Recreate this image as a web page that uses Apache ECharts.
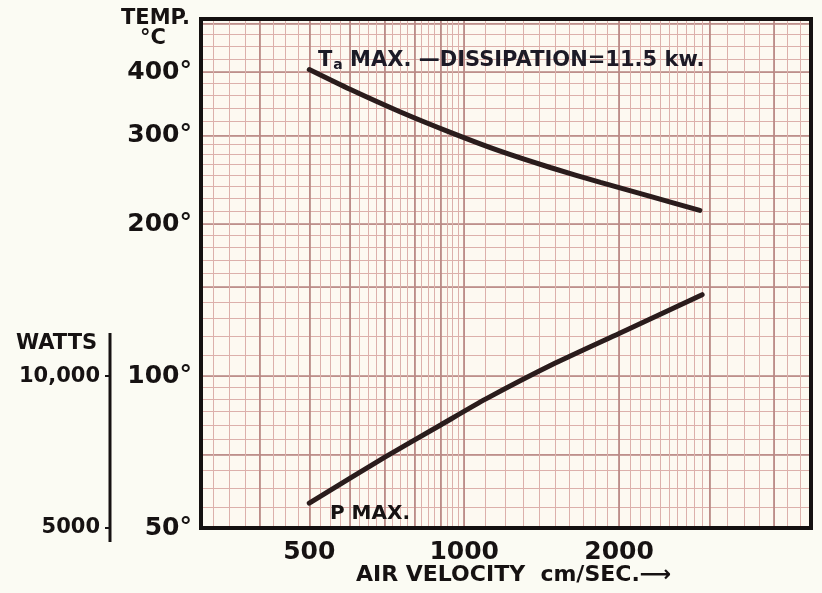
<!DOCTYPE html>
<html>
<head>
<meta charset="utf-8">
<script src="https://cdn.jsdelivr.net/npm/echarts@6/dist/echarts.min.js"></script>
<style>
html, body { margin: 0; padding: 0; background: #fbfbf3; }
#chart { width: 822px; height: 593px; }
</style>
</head>
<body>
<div id="chart"></div>
<script>
// air velocity (cm/sec) against max temperature / max power
var tempVelocity = [500, 600, 750, 940, 1175, 1470, 1840, 2300, 2870];
var tempMax = [405, 370, 334, 304, 279, 259, 242, 227, 213];
var powerVelocity = [500, 700, 900, 1100, 1500, 2000, 2900];
var powerMax = [5600, 6900, 8000, 9000, 10600, 12150, 14500];

var xLabels = [500, 1000, 2000];
var tempLabels = [50, 100, 200, 300, 400];
var wattLabels = [5000, 10000];

var X_MIN = 308, X_MAX = 4720;
var T_MIN = 50, T_MAX = 510;
var W_MIN = 5000, W_MAX = 51000;

// graph paper rulings
function steps(a, b, s) {
  var out = [];
  for (var v = a; v <= b + 1e-9; v += s) out.push(+v.toFixed(3));
  return out;
}
function inside(arr, lo, hi) {
  return arr.filter(function (v) { return v >= lo && v <= hi; });
}
var xFine = inside(steps(300, 1000, 25).concat(steps(1100, 3000, 100), steps(3250, 5000, 250)), X_MIN, X_MAX);
var xBold = inside(steps(300, 1000, 100).concat([2000, 3000, 4000, 5000]), X_MIN, X_MAX);
var yFine = inside(steps(50, 100, 5).concat(steps(110, 200, 10), steps(212.5, 300, 12.5), steps(320, 400, 20), steps(425, 525, 25)), T_MIN, T_MAX);
var yBold = inside([50, 70, 100, 150, 200, 300, 400, 500], T_MIN, T_MAX);

var ink = '#161212';
var font = 'DejaVu Sans';

function paperAxis(min, max, vals, color, width, pos) {
  return {
    type: 'log', min: min, max: max, position: pos,
    axisLine: { show: false },
    axisLabel: { show: false },
    axisTick: { show: false, customValues: vals },
    splitLine: { show: true, lineStyle: { color: color, width: width } }
  };
}

var chart = echarts.init(document.getElementById('chart'));
chart.setOption({
  backgroundColor: '#fbfbf3',
  animation: false,
  grid: {
    left: 201, right: 11, top: 19, bottom: 65,
    show: true, backgroundColor: '#fdf9f1', borderWidth: 0,
    containLabel: false, outerBoundsMode: 'none'
  },
  xAxis: [
    {
      type: 'log', min: X_MIN, max: X_MAX, position: 'bottom',
      axisLine: { show: false },
      axisTick: { show: false, customValues: xLabels },
      splitLine: { show: false },
      axisLabel: {
        customValues: xLabels, margin: 12,
        color: ink, fontFamily: font, fontWeight: 'bold', fontSize: 25,
        formatter: function (v) { return String(v); }
      }
    },
    paperAxis(X_MIN, X_MAX, xFine, '#dcb0ab', 1, 'top'),
    paperAxis(X_MIN, X_MAX, xBold, '#b58480', 1.6, 'top')
  ],
  yAxis: [
    {
      type: 'log', min: T_MIN, max: T_MAX, position: 'left',
      axisLine: { show: false },
      axisTick: { show: false, customValues: tempLabels },
      splitLine: { show: false },
      axisLabel: {
        customValues: tempLabels, margin: 9,
        color: ink, fontFamily: font, fontWeight: 'bold', fontSize: 25,
        formatter: function (v) { return v + '°'; }
      }
    },
    paperAxis(T_MIN, T_MAX, yFine, '#dcb0ab', 1, 'right'),
    paperAxis(T_MIN, T_MAX, yBold, '#b58480', 1.6, 'right'),
    {
      type: 'log', min: W_MIN, max: W_MAX, position: 'left', offset: 91,
      axisLine: { show: false },
      splitLine: { show: false },
      axisTick: { show: true, customValues: wattLabels, length: 5, lineStyle: { color: ink, width: 2 } },
      axisLabel: {
        customValues: wattLabels, margin: 10,
        color: ink, fontFamily: font, fontWeight: 'bold', fontSize: 21,
        formatter: function (v) { return v === 10000 ? '10,000' : String(v); }
      }
    }
  ],
  series: [
    {
      name: 'Ta MAX.', type: 'line', xAxisIndex: 0, yAxisIndex: 0,
      data: tempVelocity.map(function (v, i) { return [v, tempMax[i]]; }),
      smooth: 0.2, showSymbol: false, z: 5,
      lineStyle: { color: '#2a1c1c', width: 5, cap: 'round' }
    },
    {
      name: 'P MAX.', type: 'line', xAxisIndex: 0, yAxisIndex: 3,
      data: powerVelocity.map(function (v, i) { return [v, powerMax[i]]; }),
      smooth: 0.2, showSymbol: false, z: 5,
      lineStyle: { color: '#2a1c1c', width: 5, cap: 'round' }
    }
  ],
  graphic: [
    { type: 'rect', z: 100, shape: { x: 201, y: 19, width: 610, height: 509 },
      style: { fill: 'none', stroke: '#141010', lineWidth: 4 } },
    { type: 'text', left: 121, top: 8, z: 100,
      style: { text: 'TEMP.', fill: ink, font: 'bold 21px "DejaVu Sans"' } },
    { type: 'text', left: 140, top: 28, z: 100,
      style: { text: '°C', fill: ink, font: 'bold 21px "DejaVu Sans"' } },
    { type: 'text', left: 16, top: 333, z: 100,
      style: { text: 'WATTS', fill: ink, font: 'bold 21px "DejaVu Sans"' } },
    { type: 'line', z: 100, shape: { x1: 110, y1: 333, x2: 110, y2: 542 },
      style: { stroke: ink, lineWidth: 3 } },
    { type: 'text', left: 318, top: 50, z: 100,
      style: {
        text: '{t|T}{s|a} MAX. —DISSIPATION=11.5 kw.',
        fill: '#1c1a26', font: 'bold 21px "DejaVu Sans"',
        rich: {
          t: { fontSize: 21, fontWeight: 'bold', fontFamily: font, fill: '#1c1a26' },
          s: { fontSize: 14, fontWeight: 'bold', fontFamily: font, fill: '#1c1a26', padding: [10, 0, 0, 1] }
        }
      } },
    { type: 'text', left: 330, top: 504, z: 100,
      style: { text: 'P MAX.', fill: ink, font: 'bold 20px "DejaVu Sans"' } },
    { type: 'text', left: 356, top: 564, z: 100,
      style: { text: 'AIR VELOCITY  cm/SEC.⟶', fill: ink, font: 'bold 22px "DejaVu Sans"' } }
  ]
});
</script>
</body>
</html>
